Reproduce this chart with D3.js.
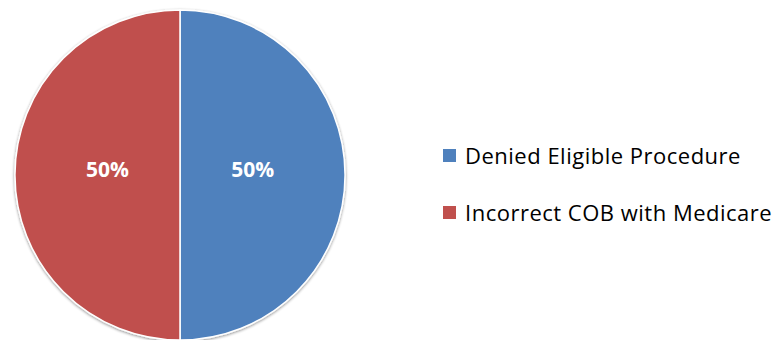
<!DOCTYPE html>
<html>
<head>
<meta charset="utf-8">
<script src="https://cdn.jsdelivr.net/npm/d3@7"></script>
<style>
  body { margin: 0; background: #fff; }
  svg { display: block; }
</style>
</head>
<body>
<svg id="chart"></svg>
<script>
var categories = ["Denied Eligible Procedure", "Incorrect COB with Medicare"];
var values = [50, 50];
var colors = ["#4F81BD", "#C0504D"];

var width = 778, height = 340;
var cx = 180, cy = 175, radius = 165;

var svg = d3.select("#chart")
    .attr("width", width)
    .attr("height", height);

var defs = svg.append("defs");
var filt = defs.append("filter").attr("id", "shadow")
    .attr("x", "-10%").attr("y", "-10%").attr("width", "120%").attr("height", "120%");
filt.append("feGaussianBlur").attr("in", "SourceAlpha").attr("stdDeviation", 1.5);
filt.append("feOffset").attr("dx", 0).attr("dy", 1).attr("result", "blur");
filt.append("feComponentTransfer").append("feFuncA").attr("type", "linear").attr("slope", 0.45);
var merge = filt.append("feMerge");
merge.append("feMergeNode");
merge.append("feMergeNode").attr("in", "SourceGraphic");

var data = categories.map(function(c, i) { return {name: c, value: values[i]}; });

var pie = d3.pie().sort(null).value(function(d) { return d.value; });
var arc = d3.arc().innerRadius(0).outerRadius(radius);
var labelArc = d3.arc().innerRadius(radius * 0.88).outerRadius(0);

var color = d3.scaleOrdinal().domain(categories).range(colors);

var g = svg.append("g")
    .attr("transform", "translate(" + cx + "," + cy + ")");

g.append("g").attr("filter", "url(#shadow)")
  .selectAll("path")
  .data(pie(data))
  .enter()
  .append("path")
    .attr("d", arc)
    .attr("fill", function(d) { return color(d.data.name); })
    .attr("stroke", "#fff")
    .attr("stroke-width", 1.5);

var total = d3.sum(values);
g.selectAll("text.lbl")
  .data(pie(data))
  .enter()
  .append("text")
    .attr("class", "lbl")
    .attr("transform", function(d) {
        var c = labelArc.centroid(d);
        return "translate(" + c[0] + "," + (c[1] - 5) + ")";
    })
    .attr("text-anchor", "middle")
    .attr("dy", "0.35em")
    .style("font-family", "'Open Sans', sans-serif")
    .style("font-weight", "bold")
    .style("font-size", "21px")
    .style("fill", "#fff")
    .text(function(d) { return Math.round(d.data.value / total * 100) + "%"; });

var legend = svg.append("g")
    .attr("transform", "translate(443,149)");

var item = legend.selectAll("g")
  .data(categories)
  .enter()
  .append("g")
    .attr("transform", function(d, i) { return "translate(0," + (i * 57) + ")"; });

item.append("rect")
    .attr("width", 13).attr("height", 13)
    .attr("fill", function(d) { return color(d); });

item.append("text")
    .attr("x", 22)
    .attr("y", 15)
    .style("font-family", "'Open Sans', sans-serif")
    .style("font-size", "22px")
    .style("letter-spacing", "0.5px")
    .style("fill", "#000")
    .text(function(d) { return d; });
</script>
</body>
</html>
